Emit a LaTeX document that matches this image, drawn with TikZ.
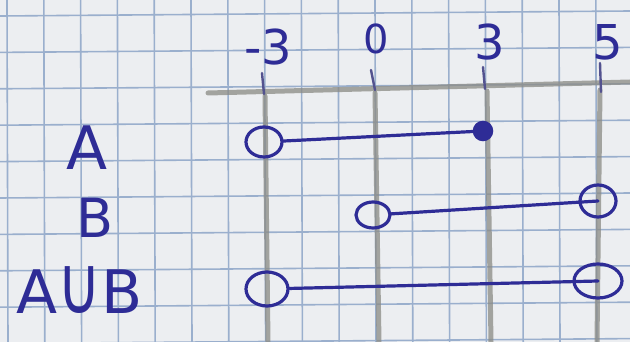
\documentclass[tikz,border=0pt]{standalone}
\usepackage{fontspec}
\setmainfont{DejaVu Sans}
\usetikzlibrary{shapes.geometric}
\definecolor{paper}{HTML}{ECEEF1}
\definecolor{gridc}{HTML}{9AAFCD}
\definecolor{ink}{HTML}{2E2C96}
\definecolor{pencil}{HTML}{8A8A84}
\begin{document}
\begin{tikzpicture}[x=1pt,y=-1pt,
  gridline/.style={draw=gridc,line width=1.6pt},
  pencilline/.style={draw=pencil,line width=5pt,opacity=0.75,line cap=round},
  tickmark/.style={draw=ink!60!pencil,line width=2.4pt,line cap=round},
  pen/.style={draw=ink,line width=3.2pt,line cap=round},
  opendot/.style={ellipse,draw=ink,line width=3.2pt,inner sep=0pt},
  filleddot/.style={circle,draw=ink,fill=ink,line width=1.5pt,inner sep=0pt,minimum size=19pt},
  setlabel/.style={text=ink,inner sep=0pt,font=\fontsize{60}{60}\selectfont},
  numlabel/.style={text=ink,inner sep=0pt,font=\fontsize{48}{48}\selectfont}]
\fill[paper] (0,0) rectangle (630,342);
\useasboundingbox (0,0) rectangle (630,342);
% grid paper
\foreach \i in {0,...,17} \draw[gridline] ({7+36.8*\i},0) -- ({8+36.8*\i},342);
\foreach \j in {0,...,9} \draw[gridline] (0,{16+36.4*\j}) -- (630,{11+36.4*\j});
% pencil number line
\draw[pencilline] (208,93) -- (630,82);
\draw[pencilline] (265,96) -- (268,342);
\draw[pencilline] (375,93) -- (379,342);
\draw[pencilline] (487,91) -- (491,342);
\draw[pencilline] (600,90) -- (597,342);
% ticks
\draw[tickmark] (262,73) -- (264,94);
\draw[tickmark] (371,70) -- (375,90);
\draw[tickmark] (483,67) -- (485,89);
\draw[tickmark] (600,63) -- (601,92);
% numbers
\node[numlabel] (nm3) at (268,47) {-3};
\node[numlabel,font=\fontsize{40}{40}\selectfont] (n0) at (376,39) {0};
\node[numlabel] (n3) at (490,42) {3};
\node[numlabel] (n5) at (608,42) {5};
% set labels
\node[setlabel] (la) at (87,148) {A};
\node[setlabel,font=\fontsize{54}{54}\selectfont] (lb) at (95,218) {B};
\node[setlabel] (lu) at (80,290) {A\scalebox{1}[1.35]{∪}B};
% intervals
\node[opendot,minimum width=36pt,minimum height=30pt] (a1) at (264,142) {};
\node[filleddot] (a2) at (483,131) {};
\node[opendot,minimum width=34pt,minimum height=26pt] (b1) at (373,215) {};
\node[opendot,minimum width=36pt,minimum height=32pt] (b2) at (598,201) {};
\node[opendot,minimum width=42pt,minimum height=34pt] (u1) at (267,289) {};
\node[opendot,minimum width=48pt,minimum height=34pt] (u2) at (598,281) {};
\draw[pen] (a1) -- (a2);
\draw[pen] (b1) -- (b2.center);
\draw[pen] (u1) -- (u2.center);
\end{tikzpicture}
\end{document}
